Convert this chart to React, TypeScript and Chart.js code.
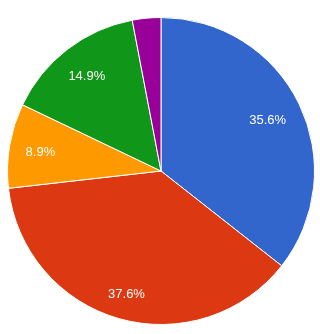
import React, { useEffect, useRef } from "react";
import { Chart, registerables } from "chart.js";

Chart.register(...registerables);

const categories = ["Blue", "Red", "Orange", "Green", "Purple"];
const values = [35.6, 37.6, 8.9, 14.9, 3.0];
const colors = ["#3366cc", "#dc3912", "#ff9900", "#109618", "#990099"];

const sliceLabels = {
  id: "sliceLabels",
  afterDatasetsDraw(chart: any) {
    const ctx = chart.ctx;
    const meta = chart.getDatasetMeta(0);
    const data = chart.data.datasets[0].data as number[];
    const total = data.reduce((a, b) => a + b, 0);
    ctx.save();
    ctx.fillStyle = "#ffffff";
    ctx.font = "13px 'Liberation Sans', Arial, sans-serif";
    ctx.textAlign = "center";
    ctx.textBaseline = "middle";
    meta.data.forEach((arc: any, i: number) => {
      const pct = (data[i] / total) * 100;
      if (pct < 5) return;
      const { x, y, startAngle, endAngle, outerRadius } = arc.getProps(
        ["x", "y", "startAngle", "endAngle", "outerRadius"],
        true
      );
      const text = pct.toFixed(1) + "%";
      const w = ctx.measureText(text).width + 2;
      const h = 13;
      const mid = (startAngle + endAngle) / 2;
      const ux = Math.cos(mid);
      const uy = Math.sin(mid);
      const a = Math.sign(ux) * w / 2;
      const b = Math.sign(uy) * h / 2;
      const D = outerRadius - 14.5;
      const p = ux * a + uy * b;
      const r = -p + Math.sqrt(p * p - (a * a + b * b - D * D));
      ctx.fillText(text, x + ux * r, y + uy * r + 1.5);
    });
    ctx.restore();
  },
};

export default function App() {
  const ref = useRef<HTMLCanvasElement | null>(null);
  useEffect(() => {
    if (!ref.current) return;
    const chart = new Chart(ref.current, {
      type: "pie",
      data: {
        labels: categories,
        datasets: [
          {
            data: values,
            backgroundColor: colors,
            borderColor: "#ffffff",
            borderWidth: 1,
          },
        ],
      },
      options: {
        animation: false,
        responsive: true,
        maintainAspectRatio: false,
        layout: { padding: { left: 7, right: 5, top: 17, bottom: 9 } },
        plugins: {
          legend: { display: false },
          tooltip: { enabled: false },
        },
      },
      plugins: [sliceLabels],
    });
    return () => chart.destroy();
  }, []);
  return (
    <div style={{ position: "fixed", left: 0, top: 0, width: 320, height: 334, background: "#ffffff" }}>
      <canvas ref={ref} />
    </div>
  );
}
